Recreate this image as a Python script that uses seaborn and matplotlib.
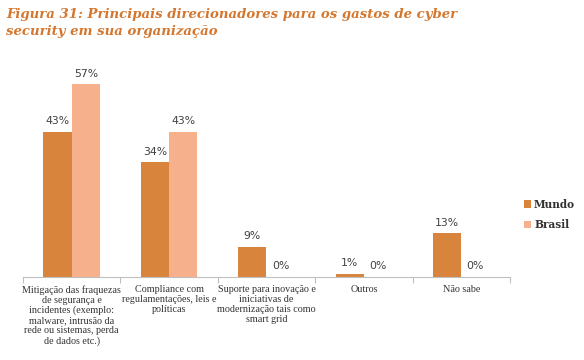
import matplotlib
matplotlib.use("Agg")
import matplotlib.pyplot as plt
import seaborn as sns
import pandas as pd
import numpy as np
from matplotlib.patches import Patch

categories = [
    "Mitigação das fraquezas\nde segurança e\nincidentes (exemplo:\nmalware, intrusão da\nrede ou sistemas, perda\nde dados etc.)",
    "Compliance com\nregulamentações, leis e\npolíticas",
    "Suporte para inovação e\niniciativas de\nmodernização tais como\nsmart grid",
    "Outros",
    "Não sabe",
]
mundo = [43, 34, 9, 1, 13]
brasil = [57, 43, 0, 0, 0]
series = ["Mundo", "Brasil"]
colors = ["#d9843d", "#f6b08c"]
title = "Figura 31: Principais direcionadores para os gastos de cyber\nsecurity em sua organização"

df = pd.DataFrame({
    "cat": categories * 2,
    "val": mundo + brasil,
    "serie": [series[0]] * len(categories) + [series[1]] * len(categories),
})

sns.set_theme(style="white")
fig = plt.figure(figsize=(5.84, 3.60), dpi=100)
ax = fig.add_axes([23 / 584, 1 - 277 / 360, (510 - 23) / 584, (277 - 55) / 360])

sns.barplot(data=df, x="cat", y="val", hue="serie", palette=colors, width=0.58,
            saturation=1, ax=ax, legend=False, linewidth=0, edgecolor="none")

for cont in ax.containers:
    ax.bar_label(cont, labels=[f"{v:.0f}%" for v in cont.datavalues], padding=4,
                 fontsize=7.8, color="#404040", family="DejaVu Sans")

ax.set_xlim(-0.5, len(categories) - 0.5)
ax.set_ylim(0, 222 / 3.38)
ax.set_xlabel("")
ax.set_ylabel("")
ax.set_yticks([])
for s in ["top", "right", "left"]:
    ax.spines[s].set_visible(False)
ax.spines["bottom"].set_color("#bfbfbf")
ax.spines["bottom"].set_linewidth(0.8)
ax.set_xticks(range(len(categories)))
ax.set_xticklabels(categories, fontsize=7.3, family="Liberation Serif", color="#333333",
                   linespacing=1.12)
ax.set_xticks(np.arange(-0.5, len(categories)), minor=True)
ax.tick_params(axis="x", which="major", bottom=False, length=0, pad=6)
ax.tick_params(axis="x", which="minor", bottom=True, length=4, color="#bfbfbf",
               width=0.8, direction="out")

handles = [Patch(facecolor=c, edgecolor="none") for c in colors]
leg = fig.legend(handles, series, loc="upper left", bbox_to_anchor=(514 / 584, 1 - 189 / 360),
                 frameon=False, handlelength=0.7, handleheight=0.7, handletextpad=0.3,
                 labelspacing=0.9, prop={"family": "DejaVu Serif", "size": 7.6, "weight": "bold"})
for t in leg.get_texts():
    t.set_color("#333333")

fig.text(6 / 584, 1 - 8 / 360, title, ha="left", va="top", fontsize=9.5,
         family="DejaVu Serif", weight="bold", style="italic", color="#d4762d",
         linespacing=1.45)

fig.savefig("out.png", dpi=100, facecolor="white")
